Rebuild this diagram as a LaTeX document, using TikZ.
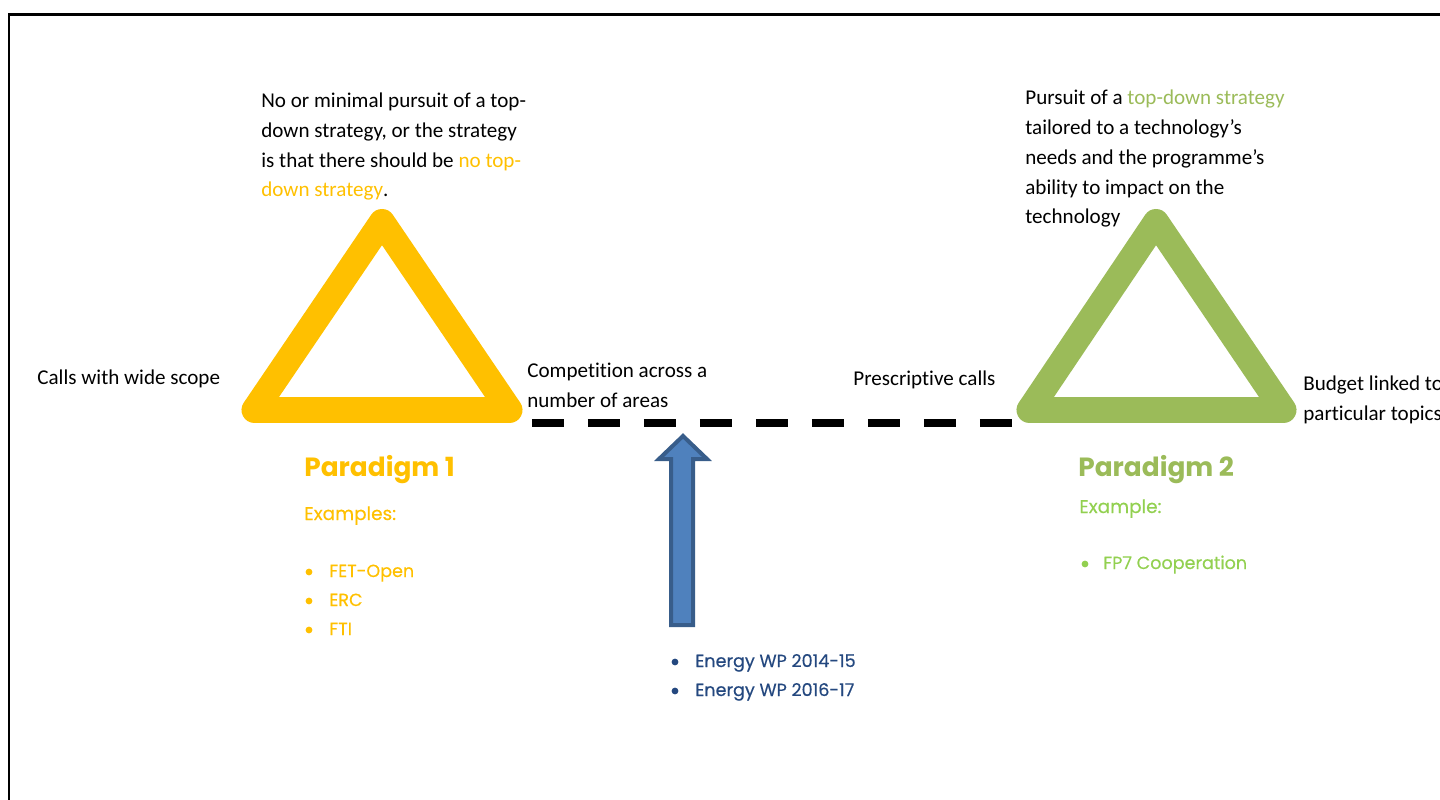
\documentclass[tikz,border=0pt]{standalone}
\usepackage{fontspec}
\setmainfont[RawFeature={-liga;-clig;-calt}]{Carlito}
\newfontfamily\paradfont{Poppins}
\newfontfamily\listefont[FakeBold=0.4]{Poppins}
\begin{document}
\begin{tikzpicture}[x=0.02cm, y=-0.02cm,
    corps/.style={anchor=base west, inner sep=0pt, align=left, font=\fontsize{12}{17}\selectfont},
    titre/.style={anchor=base west, inner sep=0pt, font=\paradfont\bfseries\fontsize{15}{18}\selectfont},
    liste/.style={anchor=base west, inner sep=0pt, font=\listefont\fontsize{10}{12}\selectfont}]
    % --- COULEURS ---
    \definecolor{jaune}{HTML}{FFC000}      % paradigme 1
    \definecolor{vert}{HTML}{9BBB59}       % paradigme 2
    \definecolor{vertClair}{HTML}{92D050}  % exemples
    \definecolor{bleu}{HTML}{4F81BD}       % fleche
    \definecolor{bleuBord}{HTML}{385D8A}
    \definecolor{bleuTexte}{HTML}{24487F}

    \useasboundingbox (0,0) rectangle (1440,800);
    \clip (0,0) rectangle (1440,800);

    % Cadre (coupe a droite et en bas)
    \draw[line width=0.06cm] (9,15) rectangle (1500,860);

    % --- TRIANGLES ---
    \draw[jaune, line width=0.52cm, line join=round] (382,222) -- (509.5,410) -- (254.5,410) -- cycle;
    \draw[vert, line width=0.52cm, line join=round] (1156,222) -- (1283.5,410) -- (1029.5,410) -- cycle;

    % Ligne pointillee entre les deux paradigmes
    \coordinate (tiretG) at (532,423);
    \coordinate (tiretD) at (1012,423);
    \draw[line width=0.16cm, dash pattern=on 0.64cm off 0.48cm] (tiretG) -- (tiretD);

    % Fleche bleue (position actuelle)
    \draw[fill=bleu, draw=bleuBord, line width=0.08cm, line join=miter]
        (671,625) -- (671,459) -- (659,459) -- (683,436) -- (707,459) -- (693,459) -- (693,625) -- cycle;

    % --- TEXTES ---
    % (ancre = ligne de base de la derniere ligne)
    \node[corps] (strat1) at (261,197) {No or minimal pursuit of a top-\\down strategy, or the strategy\\is that there should be \textcolor{jaune}{no top-}\\\textcolor{jaune}{down strategy}.};
    \node[corps] (strat2) at (1025,224) {Pursuit of a \textcolor{vert}{top-down strategy}\\tailored to a technology’s\\needs and the programme’s\\ability to impact on the\\technology};

    \node[corps] (large) at (37,384) {Calls with wide scope};
    \node[corps] (compet) at (527,407) {Competition across a\\number of areas};
    \node[corps] (prescr) at (853,386) {Prescriptive calls};
    \node[corps] (budget) at (1303,420) {Budget linked to\\particular topics};

    % Paradigme 1
    \node[titre, text=jaune] (par1) at (304,476) {Paradigm 1};
    \node[liste, text=jaune, font=\listefont\fontsize{10.5}{12}\selectfont] (ex1) at (304,520) {Examples:};
    \fill[jaune] (309,572) circle (3.4);
    \node[liste, text=jaune] (fet) at (329,577) {FET-Open};
    \fill[jaune] (309,601) circle (3.4);
    \node[liste, text=jaune] (erc) at (329,606) {ERC};
    \fill[jaune] (309,630) circle (3.4);
    \node[liste, text=jaune] (fti) at (329,635) {FTI};

    % Paradigme 2
    \node[titre, text=vert] (par2) at (1078,476) {Paradigm 2};
    \node[liste, text=vertClair, font=\listefont\fontsize{10.5}{12}\selectfont] (ex2) at (1079,513) {Example:};
    \fill[vertClair] (1085,564) circle (3.4);
    \node[liste, text=vertClair] (fp7) at (1103,569) {FP7 Cooperation};

    % Programmes de travail
    \fill[bleuTexte] (675,662) circle (3.4);
    \node[liste, text=bleuTexte] (wp1) at (695,667) {Energy WP 2014-15};
    \fill[bleuTexte] (675,691) circle (3.4);
    \node[liste, text=bleuTexte] (wp2) at (695,696) {Energy WP 2016-17};
\end{tikzpicture}
\end{document}
